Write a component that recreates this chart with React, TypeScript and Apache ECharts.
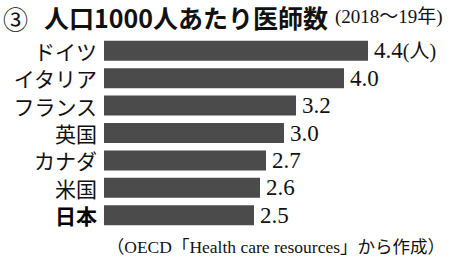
import React, { useEffect, useRef } from "react";
import * as echarts from "echarts";

const categories = ["ドイツ", "イタリア", "フランス", "英国", "カナダ", "米国", "日本"];
const values = [4.4, 4.0, 3.2, 3.0, 2.7, 2.6, 2.5];
const unitLabel = "(人)";
const titleMark = "③";
const titleText = "人口1000人あたり医師数";
const subtitleText = "(2018～19年)";
const sourceText = "（OECD「Health care resources」から作成）";

const SANS = '"Noto Sans CJK JP", "Noto Sans", sans-serif';
const SERIF = '"Liberation Serif", "DejaVu Serif", "Noto Sans CJK JP", serif';

export default function App() {
  const ref = useRef<HTMLDivElement>(null);
  useEffect(() => {
    if (!ref.current) return;
    const chart = echarts.init(ref.current, undefined, { renderer: "svg" });
    chart.setOption({
      animation: false,
      backgroundColor: "#ffffff",
      grid: { left: 104, top: 37, bottom: 29, width: 300 },
      xAxis: { type: "value", min: 0, max: 5, show: false },
      yAxis: {
        type: "category",
        data: categories,
        inverse: true,
        axisLine: { show: false },
        axisTick: { show: false },
        splitLine: { show: false },
        axisLabel: {
          margin: 7,
          fontSize: 21,
          color: "#111",
          fontFamily: SANS,
          formatter: (v: string) => (v === "日本" ? `{b|${v}}` : v),
          rich: {
            b: { fontSize: 21, fontWeight: "bold", color: "#000", fontFamily: SANS },
          },
        },
      },
      series: [
        {
          type: "bar",
          data: values,
          barWidth: 20,
          itemStyle: { color: "#4b4b4b" },
          label: {
            show: true,
            position: "right",
            distance: 6,
            fontFamily: SERIF,
            fontSize: 23,
            color: "#111",
            formatter: (p: any) =>
              p.dataIndex === 0 ? `${p.value.toFixed(1)}{u|${unitLabel}}` : p.value.toFixed(1),
            rich: {
              u: { fontFamily: SERIF, fontSize: 20, color: "#111" },
            },
          },
        },
      ],
      graphic: [
        {
          type: "text",
          left: 3,
          top: 5,
          style: { text: titleMark, fontSize: 25, fontFamily: SANS, fill: "#111" },
        },
        {
          type: "text",
          left: 44,
          top: 4,
          style: { text: titleText, fontSize: 25, fontWeight: "bold", fontFamily: SANS, fill: "#111" },
        },
        {
          type: "text",
          left: 335,
          top: 7,
          style: { text: subtitleText, fontSize: 19, fontFamily: SERIF, fill: "#111" },
        },
        {
          type: "text",
          right: 5,
          top: 238,
          style: { text: sourceText, fontSize: 17.5, fontFamily: SERIF, fill: "#111" },
        },
      ],
    });
    return () => chart.dispose();
  }, []);
  return (
    <div
      ref={ref}
      style={{ position: "absolute", left: 0, top: 0, width: 450, height: 258 }}
    />
  );
}
